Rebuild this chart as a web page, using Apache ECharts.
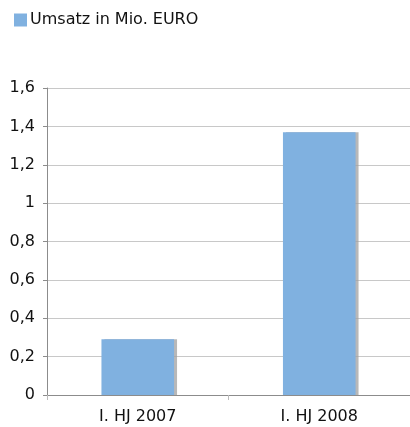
<!DOCTYPE html>
<html>
<head>
<meta charset="utf-8">
<script src="https://cdn.jsdelivr.net/npm/echarts@6/dist/echarts.min.js"></script>
<style>
  html, body { margin: 0; padding: 0; background: #fff; }
  #chart { width: 410px; height: 427px; }
</style>
</head>
<body>
<div id="chart"></div>
<script>
var categories = ['I. HJ 2007', 'I. HJ 2008'];
var umsatz = [0.29, 1.37];
var seriesName = 'Umsatz in Mio. EURO';

var font = '"DejaVu Sans", Verdana, sans-serif';
var myChart = echarts.init(document.getElementById('chart'));
var option = {
    animation: false,
    textStyle: { fontFamily: font },
    legend: {
        left: 9,
        top: 7,
        itemWidth: 13,
        itemHeight: 13,
        itemGap: 4,
        icon: 'rect',
        textStyle: { fontSize: 16, color: '#111', fontFamily: font, padding: [0, 0, 0, -2] },
        data: [seriesName]
    },
    grid: { left: 47, right: -3, top: 88, bottom: 32 },
    xAxis: {
        type: 'category',
        data: categories,
        axisLine: { lineStyle: { color: '#8c8c8c' } },
        axisTick: { show: true, length: 5, lineStyle: { color: '#bbb' } },
        axisLabel: { fontSize: 16, color: '#111', margin: 14, fontFamily: font }
    },
    yAxis: {
        type: 'value',
        min: 0,
        max: 1.6,
        interval: 0.2,
        axisLine: { show: true, lineStyle: { color: '#8c8c8c' } },
        axisTick: { show: true, length: 4, lineStyle: { color: '#8c8c8c' } },
        splitLine: { lineStyle: { color: '#c8c8c8' } },
        axisLabel: {
            fontSize: 16,
            color: '#111',
            margin: 12,
            fontFamily: font,
            formatter: function (v) { return String(Math.round(v * 10) / 10).replace('.', ','); }
        }
    },
    series: [
        {
            name: seriesName,
            type: 'bar',
            barWidth: '40%',
            data: umsatz,
            itemStyle: {
                color: '#80b1e0',
                shadowColor: 'rgba(160,160,160,0.75)',
                shadowBlur: 0,
                shadowOffsetX: 3,
                shadowOffsetY: 0
            }
        }
    ]
};
myChart.setOption(option);
</script>
</body>
</html>
